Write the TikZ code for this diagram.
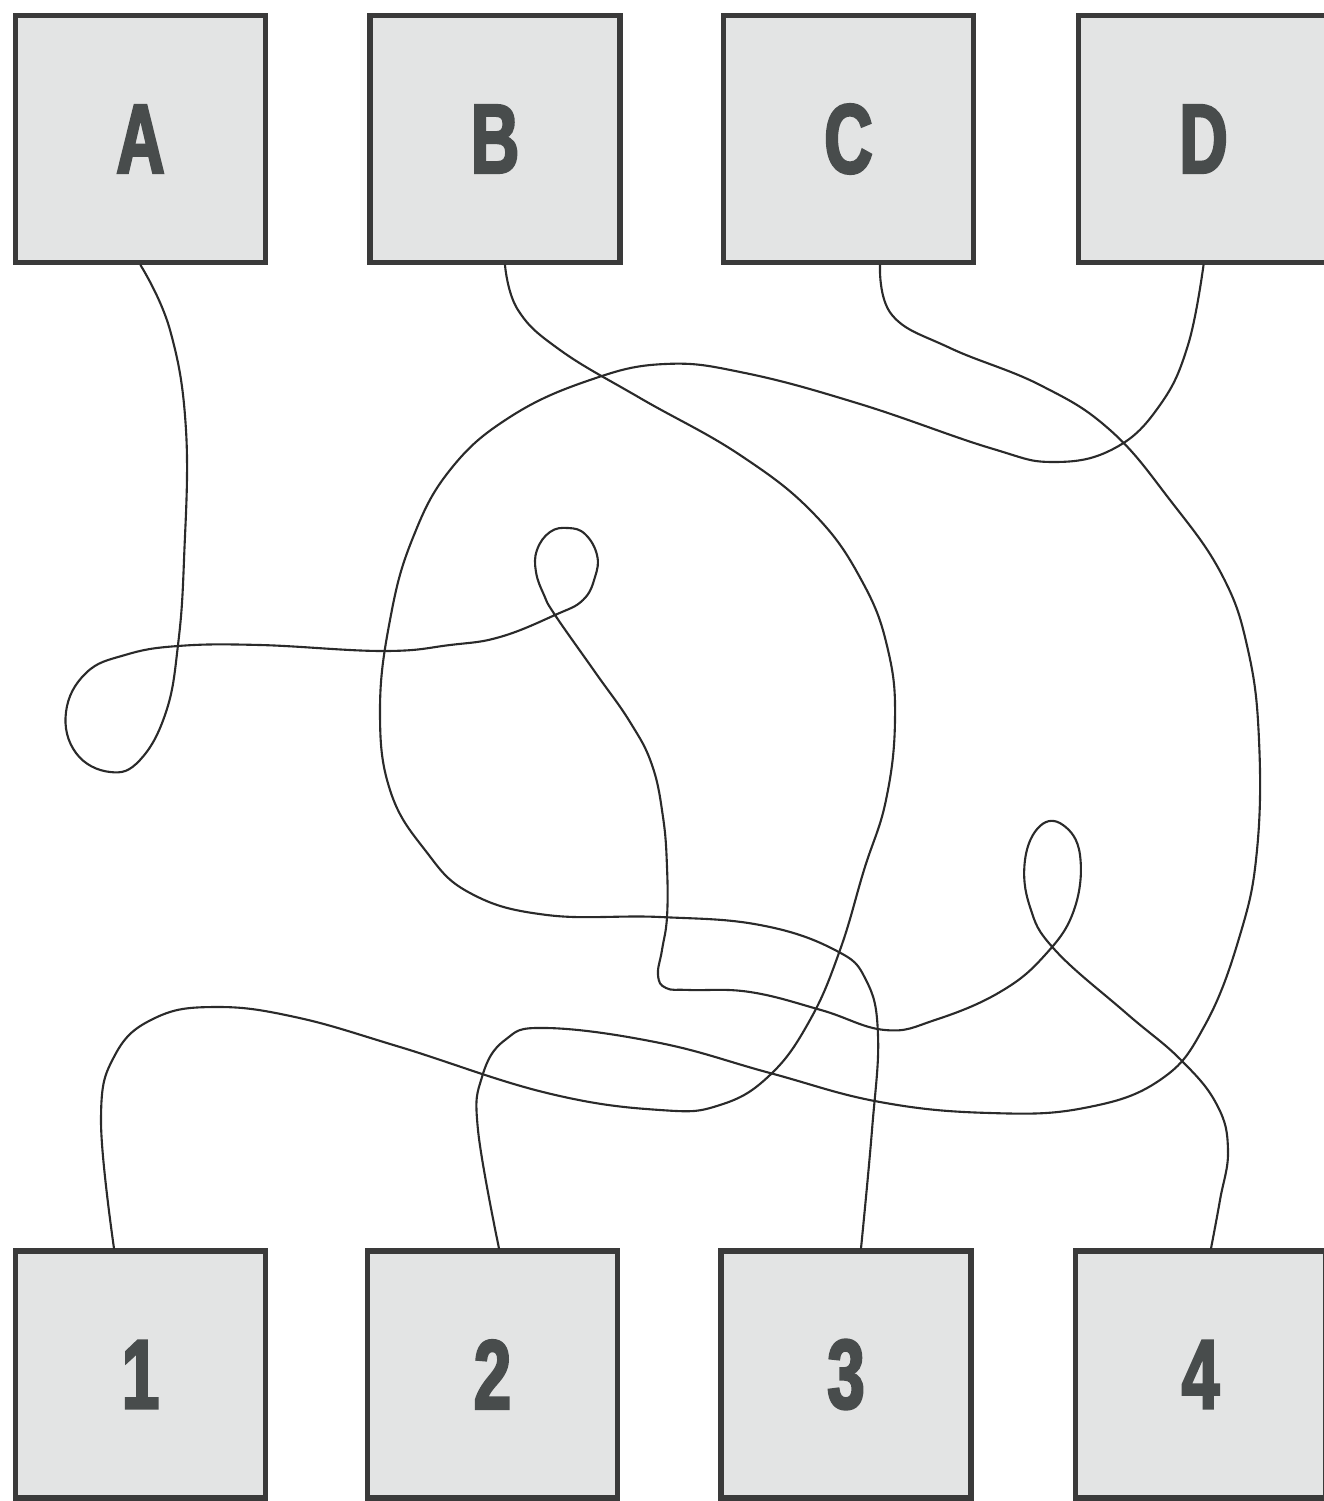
\documentclass[tikz,border=0pt]{standalone}
\usepackage{fontspec}
\newfontfamily\labelfont{Liberation Sans Bold}[FakeStretch=0.68, FakeBold=2.6]
\definecolor{boxgray}{HTML}{E3E4E4}
\definecolor{rimgray}{HTML}{3A3A3A}
\definecolor{inkgray}{HTML}{484C4C}
\definecolor{wiregray}{HTML}{2A2A2A}
\tikzset{
  box/.style={draw=rimgray, fill=boxgray, line width=3pt, minimum width=5cm,
    minimum height=4.94cm, inner sep=0pt, text=inkgray,
    font={\labelfont\fontsize{56}{56}\selectfont}},
  wire/.style={draw=wiregray, line width=1.2pt, line join=round, line cap=round}
}
\begin{document}
\begin{tikzpicture}[x=0.02cm, y=-0.02cm]
    \useasboundingbox (0,0) rectangle (1324,1501);

    % Obere Kaesten
    \node[box] (A) at (140.5,139) {A};
    \node[box] (B) at (495,139) {B};
    \node[box] (C) at (848.5,139) {C};
    \node[box] (D) at (1203.5,139) {D};

    % Untere Kaesten
    \node[box] (b1) at (140.5,1374.5) {1};
    \node[box] (b2) at (492.5,1374.5) {2};
    \node[box] (b3) at (846,1374.5) {3};
    \node[box] (b4) at (1200.5,1374.5) {4};

    % A nach 4
    \draw[wire] plot[smooth, tension=0.7] coordinates {(A.south) (170,330)
      (186,430) (184,560) (178,645) (166,712) (140,760) (110,772) (76,753) (66,712)
      (86,673) (125,655) (178,646) (260,645) (383,651) (450,645) (500,637)
      (555,615) (583,600) (595,577) (597,555) (585,534) (568,528) (550,532)
      (537,550) (536,572) (544,595) (555,615) (595,672) (630,722) (652,765)
      (663,817) (667,867) (667,917) (662,950) (658,975) (666,988) (690,990)
      (750,992) (821,1010) (885,1030) (935,1020) (1000,992) (1045,955) (1074,910)
      (1080,855) (1063,825) (1040,826) (1025,860) (1030,907) (1055,950)
      (1126,1013) (1181,1060) (1217,1105) (1228,1150) (1220,1200)
      ([xshift=0.21cm]b4.north)};

    % B nach 1
    \draw[wire] plot[smooth, tension=0.7] coordinates {([xshift=0.2cm]B.south)
      (518,310) (560,350) (640,398) (740,455) (815,515) (863,583) (888,650)
      (895,720) (886,800) (864,870) (840,950) (810,1020) (770,1075) (720,1105)
      (660,1110) (547,1093) (400,1047) (295,1017) (215,1007) (155,1018) (115,1055)
      (101,1120) ([xshift=-0.53cm]b1.north)};

    % C nach 2
    \draw[wire] plot[smooth, tension=0.7] coordinates {([xshift=0.63cm]C.south)
      (892,315) (950,348) (1040,385) (1110,430) (1170,500) (1222,575) (1248,650)
      (1259,740) (1257,850) (1240,935) (1205,1025) (1160,1080) (1084,1108)
      (990,1113) (880,1102) (770,1073) (660,1043) (547,1028) (505,1040) (482,1077)
      (478,1130) ([xshift=0.13cm]b2.north)};

    % D nach 3
    \draw[wire] plot[smooth, tension=0.7] coordinates {(D.south) (1188,345)
      (1160,405) (1115,448) (1054,462) (990,448) (860,404) (745,373) (665,364)
      (590,380) (510,417) (450,470) (412,540) (390,620) (380,710) (390,790)
      (425,850) (470,893) (547,915) (660,917) (760,925) (835,950) (866,980)
      (878,1035) (872,1130) ([xshift=0.3cm]b3.north)};
\end{tikzpicture}
\end{document}
